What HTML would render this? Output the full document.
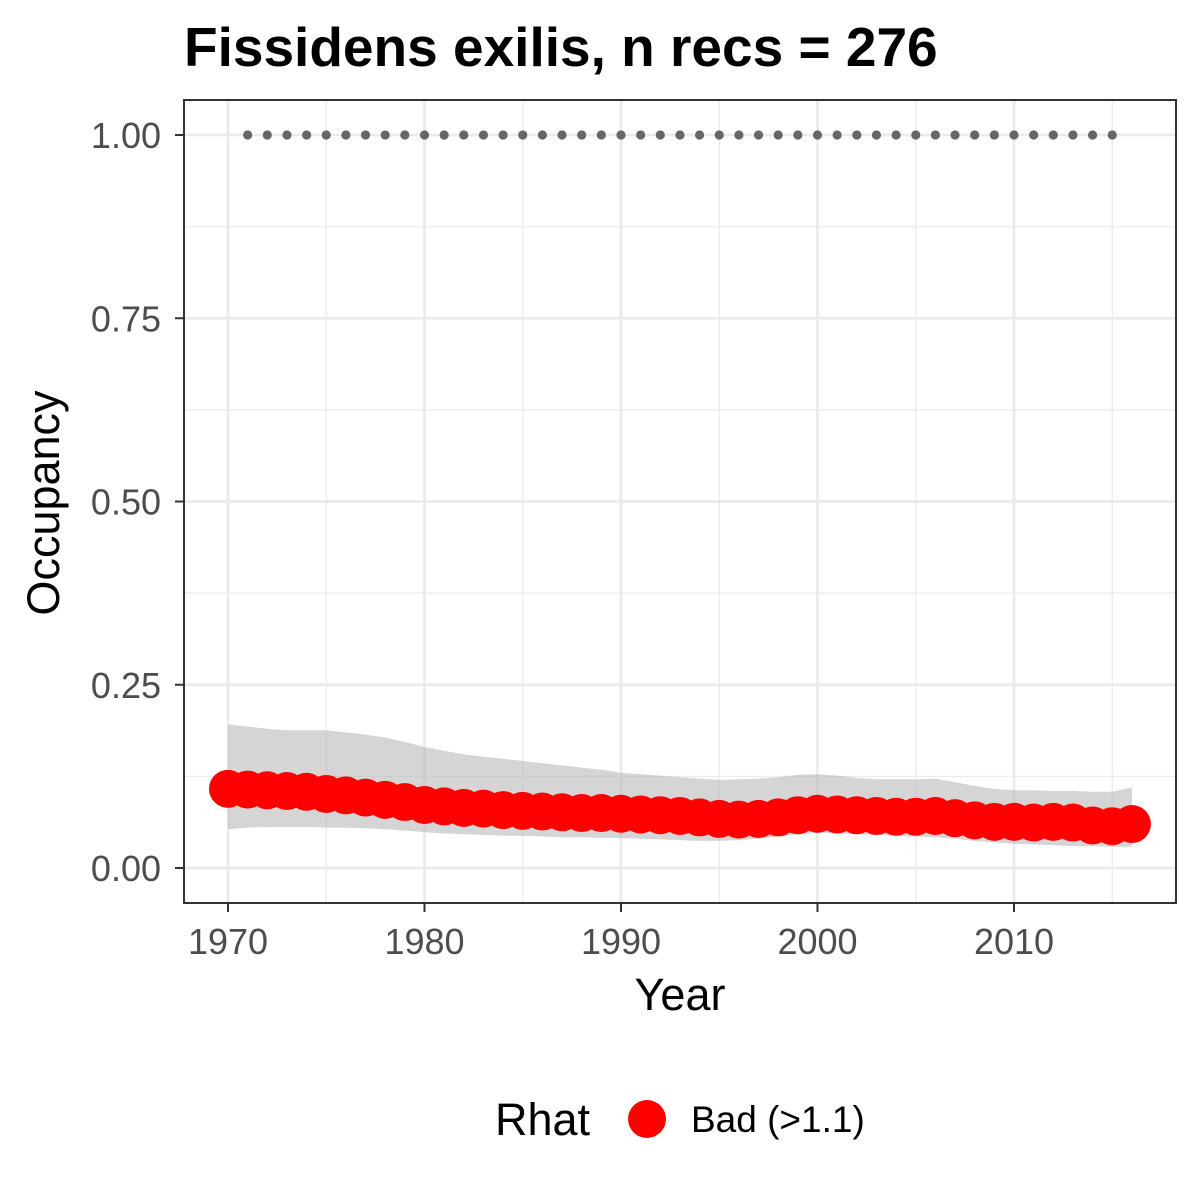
<!DOCTYPE html>
<html><head><meta charset="utf-8"><style>body{margin:0;background:#fff}svg{display:block;font-family:"Liberation Sans",Arial,sans-serif}</style></head>
<body>
<svg id="chart" width="1200" height="1200" viewBox="0 0 1200 1200">
<rect width="1200" height="1200" fill="#fff"/>
<text x="184" y="66" font-size="55" font-weight="bold" fill="#000">Fissidens exilis, n recs = 276</text>
<g id="grid"></g>
<g id="ribbon"></g>
<g id="dots"></g>
<g id="points"></g>
<rect x="184" y="100" width="992" height="803" fill="none" stroke="#333" stroke-width="2"/>
<g id="axes"></g>
<text x="680" y="1010" font-size="45" text-anchor="middle" fill="#000">Year</text>
<text transform="translate(59,503) rotate(-90)" font-size="45" text-anchor="middle" fill="#000">Occupancy</text>
<g>
<text x="495" y="1135" font-size="45" fill="#000">Rhat</text>
<circle cx="647" cy="1119" r="19" fill="#ff0000"/>
<text x="691" y="1132" font-size="37" fill="#000">Bad (&gt;1.1)</text>
</g>
</svg>
<script>
const startYear = 1970;
const meanOcc = [0.108,0.107,0.106,0.105,0.104,0.101,0.099,0.096,0.093,0.090,
0.086,0.084,0.082,0.081,0.079,0.078,0.077,0.076,0.075,0.075,
0.074,0.073,0.072,0.071,0.069,0.067,0.066,0.067,0.069,0.072,
0.074,0.073,0.072,0.071,0.070,0.070,0.071,0.068,0.065,0.063,
0.063,0.062,0.063,0.062,0.058,0.057,0.060];
const upperCI = [0.196,0.193,0.190,0.188,0.188,0.188,0.185,0.182,0.178,0.172,
0.165,0.160,0.155,0.152,0.149,0.146,0.143,0.140,0.137,0.134,
0.130,0.128,0.126,0.124,0.122,0.120,0.121,0.122,0.124,0.127,
0.128,0.126,0.123,0.121,0.121,0.121,0.122,0.117,0.112,0.108,
0.106,0.106,0.105,0.105,0.104,0.104,0.110];
const lowerCI = [0.053,0.055,0.056,0.056,0.056,0.055,0.055,0.054,0.053,0.051,
0.049,0.047,0.046,0.045,0.044,0.044,0.043,0.042,0.042,0.041,
0.041,0.040,0.039,0.038,0.037,0.037,0.038,0.040,0.043,0.046,
0.048,0.047,0.046,0.045,0.044,0.043,0.042,0.040,0.037,0.035,
0.033,0.032,0.031,0.030,0.030,0.029,0.029];
const dotYears = [1971,1972,1973,1974,1975,1976,1977,1978,1979,1980,1981,1982,1983,1984,1985,1986,1987,1988,1989,1990,1991,1992,1993,1994,1995,1996,1997,1998,1999,2000,2001,2002,2003,2004,2005,2006,2007,2008,2009,2010,2011,2012,2013,2014,2015];
const dotValue = 1.0;
const xTicks = [1970,1980,1990,2000,2010];
const xMinor = [1975,1985,1995,2005,2015];
const yTicks = [0,0.25,0.5,0.75,1.0];
const yTickLabels = ["0.00","0.25","0.50","0.75","1.00"];
const yMinor = [0.125,0.375,0.625,0.875];

const NS="http://www.w3.org/2000/svg";
const X = y => 228 + (y-1970)*19.65;
const Y = v => 868 - v*733;
function mk(tag, attrs, parent){const e=document.createElementNS(NS,tag);for(const k in attrs)e.setAttribute(k,attrs[k]);document.getElementById(parent).appendChild(e);return e;}

xMinor.forEach(t=>{const e=mk('line',{x1:X(t),x2:X(t),y1:100,y2:903,stroke:'#ebebeb','stroke-width':1.3},'grid');

});
yMinor.forEach(t=>{const e=mk('line',{x1:184,x2:1176,y1:Y(t),y2:Y(t),stroke:'#ebebeb','stroke-width':1.3},'grid');

});
xTicks.forEach(t=>{const e=mk('line',{x1:X(t),x2:X(t),y1:100,y2:903,stroke:'#ebebeb','stroke-width':2.7},'grid');

});
yTicks.forEach(t=>{const e=mk('line',{x1:184,x2:1176,y1:Y(t),y2:Y(t),stroke:'#ebebeb','stroke-width':2.7},'grid');

});

let pts=[];
upperCI.forEach((v,i)=>pts.push(X(startYear+i)+','+Y(v)));
for(let i=lowerCI.length-1;i>=0;i--)pts.push(X(startYear+i)+','+Y(lowerCI[i]));
const rib=mk('polygon',{points:pts.join(' '),fill:'#b3b3b3','fill-opacity':0.55},'ribbon');



dotYears.forEach(y=>{const e=mk('circle',{cx:X(y),cy:Y(dotValue),r:4.6,fill:'#666'},'dots');

});

meanOcc.forEach((v,i)=>{const e=mk('circle',{cx:X(startYear+i),cy:Y(v),r:19,fill:'#ff0000'},'points');

});

xTicks.forEach(t=>{const l=mk('line',{x1:X(t),x2:X(t),y1:903,y2:912,stroke:'#333','stroke-width':2},'axes');


const tx=mk('text',{x:X(t),y:954,'font-size':36,'text-anchor':'middle',fill:'#4d4d4d'},'axes');tx.textContent=t;

});
yTicks.forEach((t,i)=>{const l=mk('line',{x1:175,x2:184,y1:Y(t),y2:Y(t),stroke:'#333','stroke-width':2},'axes');


const tx=mk('text',{x:161,y:Y(t)+13,'font-size':36,'text-anchor':'end',fill:'#4d4d4d'},'axes');tx.textContent=yTickLabels[i];

});
</script>
</body></html>
